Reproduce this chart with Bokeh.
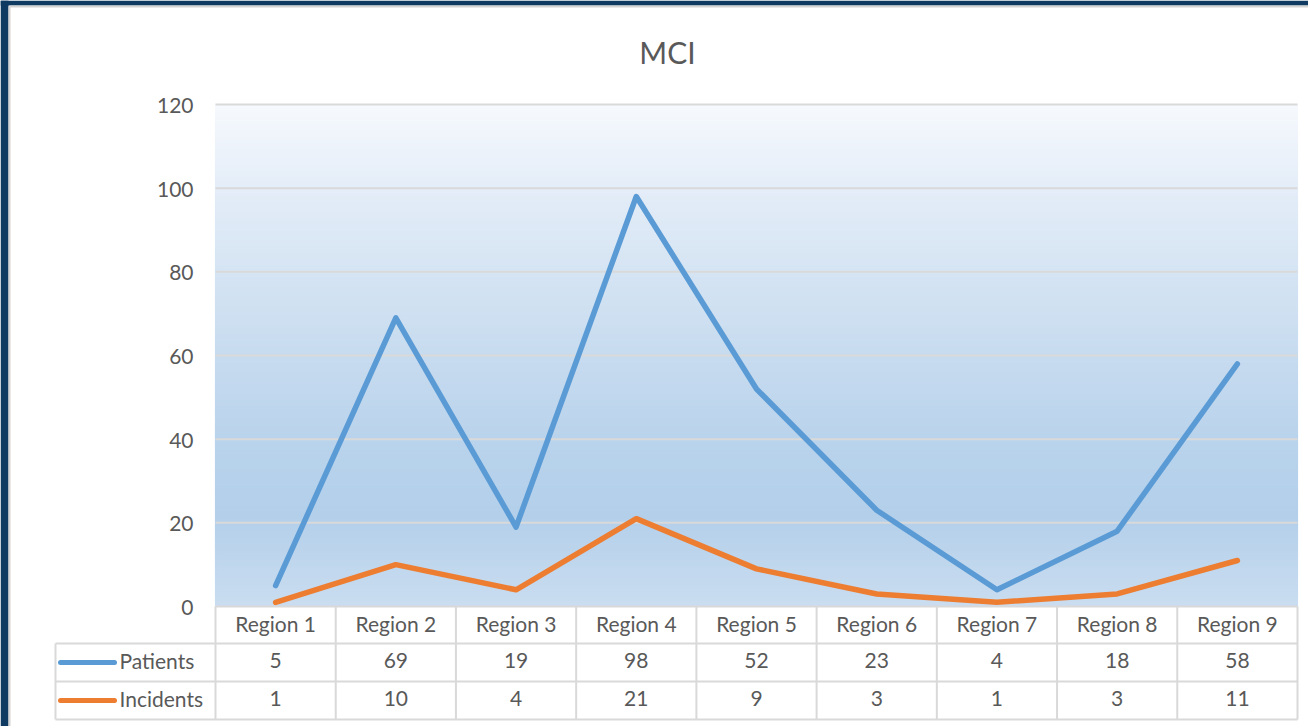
from bokeh.plotting import figure
from bokeh.models import Range1d
from bokeh.core.properties import value
from bokeh.embed import file_html
from bokeh.resources import INLINE

# ---- data ----
title_text = "MCI"
regions = ["Region 1", "Region 2", "Region 3", "Region 4", "Region 5",
           "Region 6", "Region 7", "Region 8", "Region 9"]
series_names = ["Patients", "Incidents"]
patients = [5, 69, 19, 98, 52, 23, 4, 18, 58]
incidents = [1, 10, 4, 21, 9, 3, 1, 3, 11]
y_ticks = [0, 20, 40, 60, 80, 100, 120]
series_colors = ["#5b9bd5", "#ed7d31"]

# ---- layout geometry (screen px -> data units) ----
W, H = 1308, 726
n = len(regions)
plot_left_px, plot_right_px = 215, 1297
plot_top_px, plot_zero_px = 104, 606
sx = (plot_right_px - plot_left_px) / n
sy = (plot_zero_px - plot_top_px) / max(y_ticks)
x_start = -0.5 - plot_left_px / sx
x_end = n - 0.5 + (W - plot_right_px) / sx
y_end = max(y_ticks) + plot_top_px / sy
y_start = -(H - plot_zero_px) / sy


def dx(px):
    return px / sx


def dy(px):
    return px / sy


def X(px):  # absolute screen x -> data x
    return x_start + px / sx


def Y(py):  # absolute screen y -> data y
    return y_end - py / sy


p = figure(width=W, height=H, output_backend="svg", toolbar_location=None,
           x_range=Range1d(x_start, x_end), y_range=Range1d(y_start, y_end),
           min_border=0)
p.axis.visible = False
p.grid.visible = False
p.outline_line_color = None
p.background_fill_color = "white"
p.border_fill_color = "white"

FONT = value("Lato")
TXT = "#595959"
NAVY = "#0f3a61"

# ---- dark frame around the chart ----
p.quad(left=[X(0), X(0)], right=[X(8), X(W)], bottom=[Y(H), Y(5)], top=[Y(0), Y(0)],
       fill_color=NAVY, line_color=None)
p.segment(x0=[X(9), X(9)], y0=[Y(6), Y(6)], x1=[X(9), X(W)], y1=[Y(H), Y(6)],
          line_color="#d4d4d4", line_width=2)

# ---- gradient background of plot area ----
stops = [(120, (0xf6, 0xf9, 0xfd)), (100, (0xe4, 0xed, 0xf8)), (80, (0xd5, 0xe4, 0xf3)),
         (60, (0xc7, 0xdb, 0xef)), (40, (0xb9, 0xd3, 0xec)), (22, (0xb3, 0xcf, 0xea)),
         (0, (0xca, 0xdd, 0xf0))]
bands_b, bands_t, bands_c = [], [], []
steps = 160
top_v = max(y_ticks)
for k in range(steps):
    b = top_v * k / steps
    t = top_v * (k + 1) / steps
    m = (b + t) / 2
    c = stops[0][1]
    for (v1, c1), (v0, c0) in zip(stops[:-1], stops[1:]):
        if v0 <= m <= v1:
            f = (m - v0) / (v1 - v0)
            c = tuple(int(round(c0[j] + (c1[j] - c0[j]) * f)) for j in range(3))
            break
    bands_b.append(b)
    bands_t.append(t)
    bands_c.append("#%02x%02x%02x" % c)
p.quad(left=-0.5, right=n - 0.5, bottom=bands_b, top=bands_t, fill_color=bands_c,
       line_color=bands_c, line_width=1.2)

# ---- gridlines ----
GRID = "#d9d9d9"
for t in y_ticks[1:]:
    p.segment(x0=-0.5, y0=t, x1=n - 0.5, y1=t, line_color=GRID, line_width=2)

# ---- y tick labels ----
p.text(x=[-0.5 - dx(22)] * len(y_ticks), y=y_ticks, text=[str(t) for t in y_ticks],
       text_font=FONT, text_font_size="21px", text_color=TXT,
       text_align="right", text_baseline="middle", y_offset=1)

# ---- title ----
p.text(x=[X(667)], y=[Y(51)], text=[title_text], text_font=FONT,
       text_font_size="30px", text_color=TXT, text_align="center", text_baseline="middle")

# ---- series lines ----
xs = list(range(n))
p.line(xs, patients, line_color=series_colors[0], line_width=5.5,
       line_join="round", line_cap="round")
p.line(xs, incidents, line_color=series_colors[1], line_width=5.5,
       line_join="round", line_cap="round")

# ---- data table ----
row_h = [dy(37), dy(38), dy(38)]
r0 = 0
r1 = r0 - row_h[0]
r2 = r1 - row_h[1]
r3 = r2 - row_h[2]
leg_left = -0.5 - dx(160)

hx0 = [-0.5, leg_left, leg_left, leg_left]
hx1 = [n - 0.5] * 4
hy = [r0, r1, r2, r3]
p.segment(x0=hx0, y0=hy, x1=hx1, y1=hy, line_color=GRID, line_width=2)
vx = [k - 0.5 for k in range(n + 1)] + [leg_left]
vy0 = [r0] * (n + 1) + [r1]
p.segment(x0=vx, y0=vy0, x1=vx, y1=[r3] * (n + 2), line_color=GRID, line_width=2)

TOFF = -2
p.text(x=xs, y=[(r0 + r1) / 2] * n, text=regions, text_font=FONT, text_font_size="21px",
       text_color=TXT, text_align="center", text_baseline="middle", y_offset=TOFF)
p.text(x=xs, y=[(r1 + r2) / 2] * n, text=[str(v) for v in patients], text_font=FONT,
       text_font_size="21px", text_color=TXT, text_align="center", text_baseline="middle",
       y_offset=TOFF)
p.text(x=xs, y=[(r2 + r3) / 2] * n, text=[str(v) for v in incidents], text_font=FONT,
       text_font_size="21px", text_color=TXT, text_align="center", text_baseline="middle",
       y_offset=TOFF)

# legend keys
row_c = [(r1 + r2) / 2, (r2 + r3) / 2]
p.segment(x0=[leg_left + dx(5)] * 2, y0=row_c, x1=[leg_left + dx(59)] * 2, y1=row_c,
          line_color=series_colors, line_width=5, line_cap="round")
p.text(x=[leg_left + dx(64)] * 2, y=row_c, text=series_names, text_font=FONT,
       text_font_size="21px", text_color=TXT, text_align="left", text_baseline="middle",
       y_offset=TOFF)

open("out.html", "w").write(file_html(p, INLINE))
